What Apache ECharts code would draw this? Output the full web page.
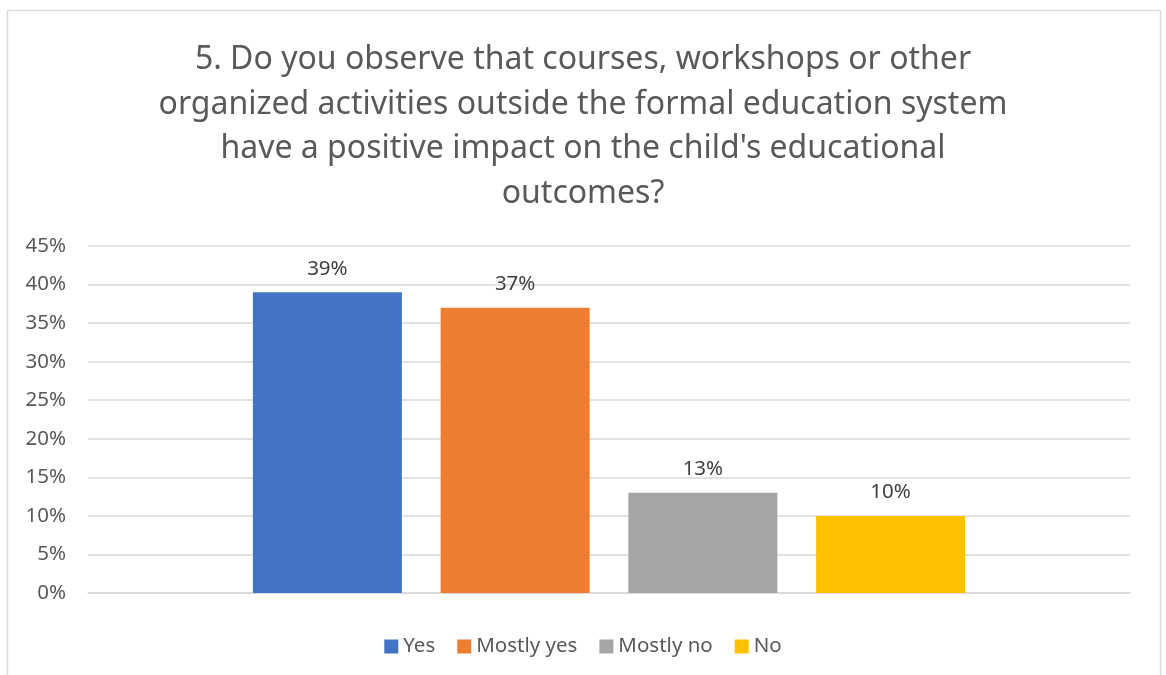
<!DOCTYPE html>
<html>
<head>
<meta charset="utf-8">
<script src="https://cdn.jsdelivr.net/npm/echarts@6/dist/echarts.min.js"></script>
<style>
  html, body { margin: 0; padding: 0; background: #fff; }
  #chart { width: 1166px; height: 675px; }
</style>
</head>
<body>
<div id="chart"></div>
<script>
// survey answers, one series per answer
var seriesNames = ['Yes', 'Mostly yes', 'Mostly no', 'No'];
var seriesValues = [39, 37, 13, 10];
var seriesColors = ['#4472C4', '#ED7D31', '#A5A5A5', '#FFC000'];
var yTicks = [0, 5, 10, 15, 20, 25, 30, 35, 40, 45];

var titleText = "5. Do you observe that courses, workshops or other\n" +
  "organized activities outside the formal education system\n" +
  "have a positive impact on the child's educational\n" +
  "outcomes?";

var FONT = '"Noto Sans", sans-serif';

var chart = echarts.init(document.getElementById('chart'));

var series = seriesNames.map(function (name, i) {
  return {
    name: name,
    type: 'bar',
    barWidth: 149,
    barGap: '26%',
    itemStyle: { color: seriesColors[i] },
    label: {
      show: true,
      position: 'top',
      distance: 13,
      formatter: '{c}%',
      fontFamily: FONT,
      fontSize: 20.5,
      color: '#404040'
    },
    data: [seriesValues[i]]
  };
});

var option = {
  backgroundColor: '#ffffff',
  textStyle: { fontFamily: FONT },
  graphic: [{
    type: 'rect',
    shape: { x: 7.5, y: 10.5, width: 1153, height: 700 },
    style: { fill: 'none', stroke: '#d9d9d9', lineWidth: 1.5 },
    silent: true
  }],
  title: {
    text: titleText,
    left: 'center',
    top: 33,
    textStyle: {
      fontFamily: FONT,
      fontSize: 32,
      fontWeight: 'normal',
      color: '#595959',
      lineHeight: 44.5
    }
  },
  legend: {
    data: seriesNames,
    bottom: 13,
    left: 'center',
    icon: 'rect',
    itemWidth: 14,
    itemHeight: 14,
    itemGap: 22,
    textStyle: { fontFamily: FONT, fontSize: 20.5, color: '#595959' }
  },
  grid: { left: 88, right: 36, top: 246, bottom: 82 },
  xAxis: {
    type: 'category',
    data: [''],
    axisLine: { lineStyle: { color: '#d9d9d9', width: 1.5 } },
    axisTick: { show: false },
    axisLabel: { show: false }
  },
  yAxis: {
    type: 'value',
    min: yTicks[0],
    max: yTicks[yTicks.length - 1],
    interval: 5,
    axisLine: { show: false },
    axisTick: { show: false },
    splitLine: { lineStyle: { color: '#d9d9d9', width: 1.5 } },
    axisLabel: {
      formatter: '{value}%',
      margin: 22,
      fontFamily: FONT,
      fontSize: 20.5,
      color: '#595959'
    }
  },
  series: series
};

chart.setOption(option);
</script>
</body>
</html>
